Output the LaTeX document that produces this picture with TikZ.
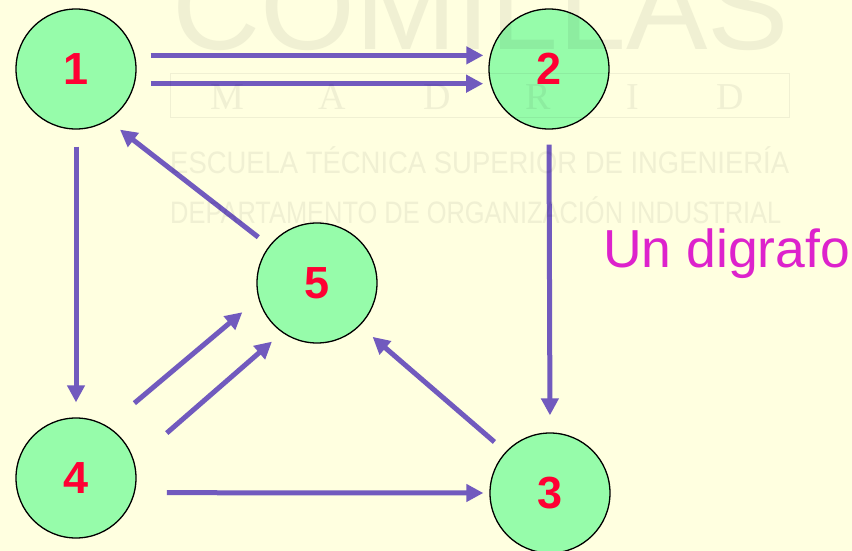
\documentclass[tikz,border=0pt]{standalone}
\usepackage{fontspec}
\setmainfont{Liberation Sans}
\newfontfamily\wmserif{Liberation Serif}
\usepackage{xcolor}
\usetikzlibrary{arrows.meta}

\definecolor{paper}{RGB}{255,255,224}
\definecolor{mint}{RGB}{150,252,170}
\definecolor{arcviolet}{RGB}{113,90,190}
\definecolor{numred}{RGB}{255,0,51}
\definecolor{titlemag}{RGB}{221,34,204}
\definecolor{wmgray}{RGB}{240,240,241}

\tikzset{
	vertex/.style={circle, draw, line width=1.3pt, fill=mint, minimum size=120pt, inner sep=0pt,
		text=numred, font=\fontsize{45}{45}\selectfont\bfseries},
	arrowline/.style={-{Triangle[length=17pt,width=17pt]}, line width=5pt, draw=arcviolet},
	wmtext/.style={inner sep=0pt, anchor=base west}
}

\begin{document}
\begin{tikzpicture}[x=1pt, y=-1pt]
	\fill[paper] (0,0) rectangle (852,551);
	\useasboundingbox (0,0) rectangle (852,551);

	\node[vertex] (n1) at (76,69) {1};
	\node[vertex] (n2) at (549,69) {2};
	\node[vertex] (n3) at (550,493) {3};
	\node[vertex] (n4) at (76,478) {4};
	\node[vertex] (n5) at (317,283) {5};

	\draw[arrowline, shorten <=15.6pt, shorten >=6.6pt] (n1.13) -- (n2.167);
	\draw[arrowline, shorten <=16pt, shorten >=7pt] (n1.-14) -- (n2.194);
	\draw[arrowline, shorten <=17pt, shorten >=15pt] (n1.south) -- (n4.north);
	\draw[arrowline, shorten <=15pt, shorten >=17pt] (n2.south) -- (n3.north);
	\draw[arrowline, shorten <=32pt, shorten >=6pt] (n4.-14) -- (n3.west);
	\draw[arrowline, shorten <=35.5pt, shorten >=21pt] (n4.59) -- (n5.195);
	\draw[arrowline, shorten <=43pt, shorten >=13.6pt] (n4.16) -- (n5.235);
	\draw[arrowline, shorten <=14.8pt, shorten >=16.8pt] (n3.137) -- (n5.-45);
	\draw[arrowline, shorten <=13.8pt, shorten >=15pt] (n5.142) -- (n1.-58);

	\node[anchor=base west, inner sep=0pt, text=titlemag, font=\fontsize{53.5}{54}\selectfont]
		(title) at (603,267) {Un digrafo};

	% faint school mark laid over everything
	\begin{scope}[blend mode=multiply, wmgray]
		\node[wmtext, font=\fontsize{122}{122}\selectfont] (wmname) at (172,50) {COMILLAS};
		\draw[line width=1pt] (170,74) rectangle (789,117);
		\foreach \l/\x in {M/227,A/332,D/437,R/538,I/633,D/730}
			\node[inner sep=0pt, anchor=base, font=\wmserif\fontsize{38}{38}\selectfont] (city-\x) at (\x,110) {\l};
		\node[wmtext] (wmschool) at (170,173)
			{\scalebox{0.885}[1]{\fontsize{31}{31}\selectfont ESCUELA TÉCNICA SUPERIOR DE INGENIERÍA}};
		\node[wmtext] (wmdept) at (170,223)
			{\scalebox{0.82}[1]{\fontsize{31}{31}\selectfont DEPARTAMENTO DE ORGANIZACIÓN INDUSTRIAL}};
	\end{scope}
\end{tikzpicture}
\end{document}
